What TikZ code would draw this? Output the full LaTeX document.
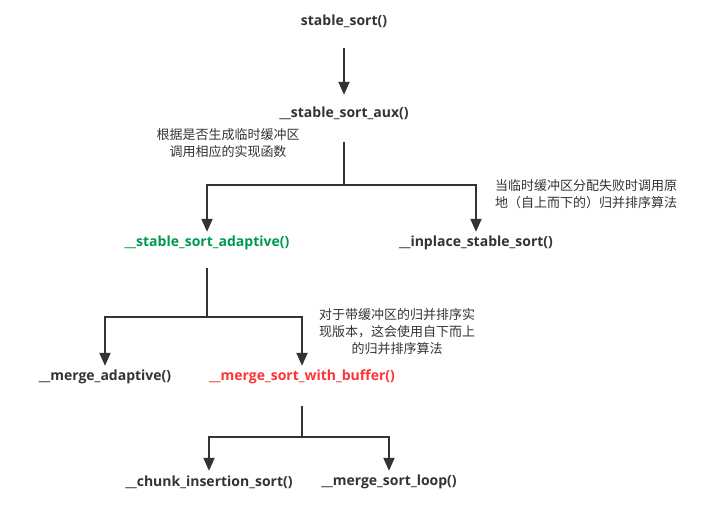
\documentclass[tikz,border=0pt]{standalone}
\usepackage{fontspec}
\setmainfont{Open Sans}
\newfontfamily\cjk{Noto Sans CJK SC}
\usetikzlibrary{arrows.meta}
\definecolor{ink}{HTML}{333333}
\definecolor{fgreen}{HTML}{00994D}
\definecolor{fred}{HTML}{FF3333}

\begin{document}
\begin{tikzpicture}[x=1pt, y=-1pt,
    func/.style = {text=ink, font=\fontsize{14}{16}\selectfont\bfseries, inner sep=0pt, minimum height=22pt},
    note/.style = {text=ink, font=\cjk\fontsize{13}{17}\selectfont, align=center, inner sep=0pt},
    link/.style = {draw=ink, line width=2pt, -{Triangle[width=11pt,length=13pt]}}]
    \useasboundingbox (0,0) rectangle (702,510);

    \node[func](stable) at (344, 21) {stable\_sort()};
    \node[func](aux) at (344, 113) {\_\_stable\_sort\_aux()};
    \node[func, text=fgreen](adaptive) at (207, 243) {\_\_stable\_sort\_adaptive()};
    \node[func](inplace) at (476, 243) {\_\_inplace\_stable\_sort()};
    \node[func](madaptive) at (105, 377) {\_\_merge\_adaptive()};
    \node[func, text=fred](buffer) at (302, 377) {\_\_merge\_sort\_with\_buffer()};
    \node[func](chunk) at (209, 482) {\_\_chunk\_insertion\_sort()};
    \node[func](loop) at (389, 482) {\_\_merge\_sort\_loop()};

    \node[note](note1) at (228, 143.5) {根据是否生成临时缓冲区\\调用相应的实现函数};
    \node[note, align=left, anchor=west](note2) at (495, 194) {当临时缓冲区分配失败时调用原\\地（自上而下的）归并排序算法};
    \node[note](note3) at (397, 332) {对于带缓冲区的归并排序实\\现版本，这会使用自下而上\\的归并排序算法};

    \coordinate (j1) at (344, 185);
    \coordinate (j2) at (207, 317);
    \coordinate (j3) at (302, 437);

    \draw[link, shorten <=16pt, shorten >=7pt](stable) -- (aux);

    \draw[link, -, shorten <=18pt](aux) -- (j1);
    \draw[link](j1) -| (adaptive);
    \draw[link](j1) -| (inplace);

    \draw[link, -, shorten <=14pt](adaptive) -- (j2);
    \draw[link](j2) -| (madaptive);
    \draw[link](j2) -| (buffer);

    \draw[link, -, shorten <=18pt](buffer) -- (j3);
    \draw[link](j3) -| (chunk);
    \draw[link](j3) -| (loop);
\end{tikzpicture}
\end{document}
